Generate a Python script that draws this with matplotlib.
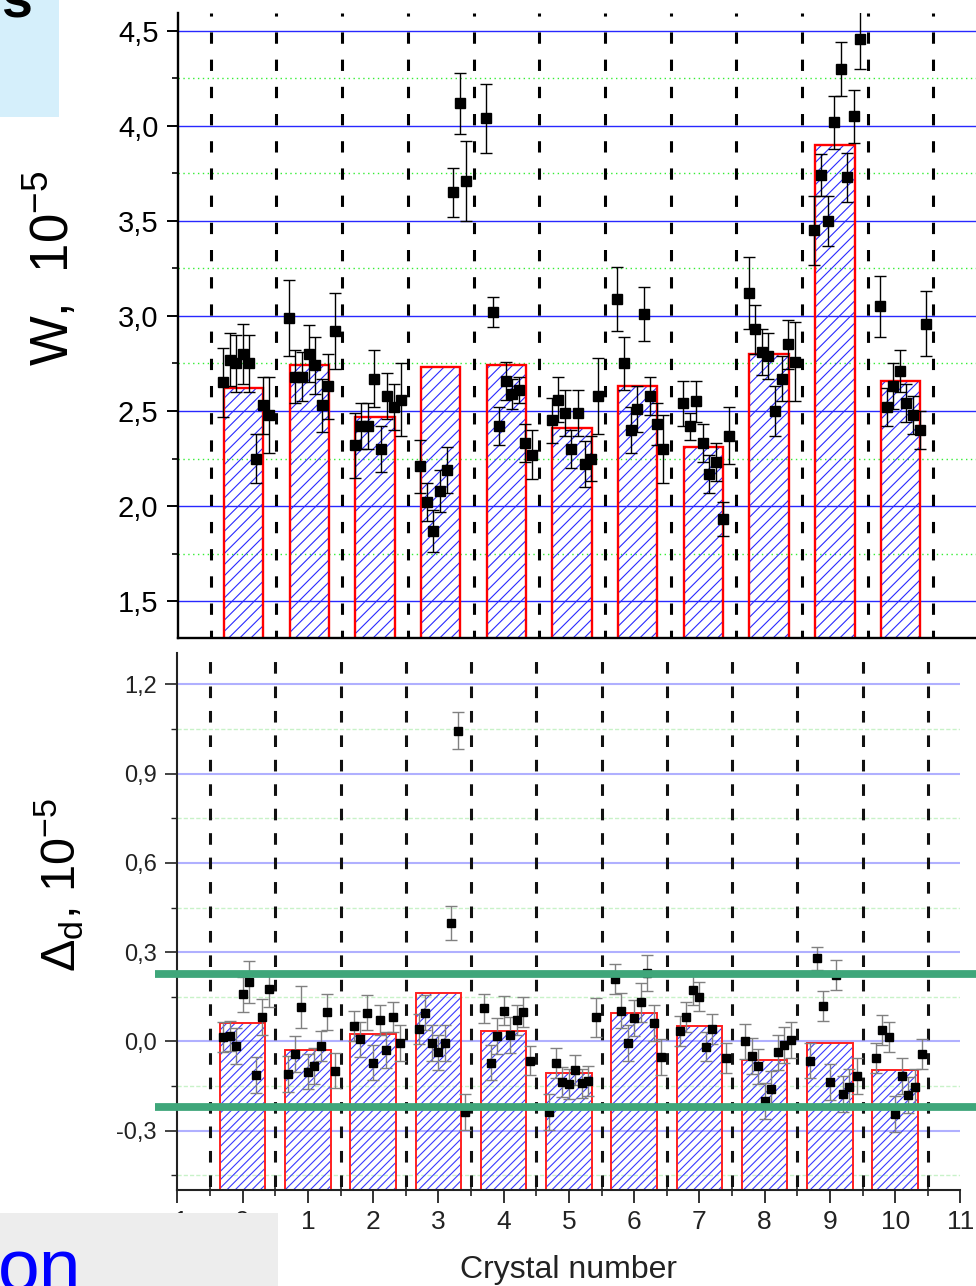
import numpy as np
import matplotlib
matplotlib.use('Agg')
import matplotlib.pyplot as plt
from matplotlib.patches import Rectangle
from matplotlib.lines import Line2D
from matplotlib.ticker import MultipleLocator, FuncFormatter
import matplotlib.transforms as mtransforms

nan = np.nan

# ---------------- data ----------------
crystals = np.arange(0, 11)

# upper panel: W, 1e-5
w_bars = [2.62, 2.74, 2.47, 2.73, 2.74, 2.41, 2.63, 2.31, 2.80, 3.90, 2.66]
w_offsets = [-0.31, -0.21, -0.11, -0.01, 0.09, 0.19, 0.29, 0.39]
w_points = [
    [2.65, 2.77, 2.75, 2.80, 2.75, 2.25, 2.53, 2.48],
    [2.99, 2.68, 2.68, 2.80, 2.74, 2.53, 2.63, 2.92],
    [2.32, 2.42, 2.42, 2.67, 2.30, 2.58, 2.52, 2.56],
    [2.21, 2.02, 1.87, 2.08, 2.19, 3.65, 4.12, 3.71],
    [4.04, 3.02, 2.42, 2.66, 2.59, 2.61, 2.33, 2.27],
    [2.45, 2.56, 2.49, 2.30, 2.49, 2.22, 2.25, 2.58],
    [3.09, 2.75, 2.40, 2.51, 3.01, 2.58, 2.43, 2.30],
    [2.54, 2.42, 2.55, 2.33, 2.17, 2.23, 1.93, 2.37],
    [3.12, 2.93, 2.81, 2.79, 2.50, 2.67, 2.85, 2.76],
    [3.45, 3.74, 3.50, 4.02, 4.30, 3.73, 4.05, 4.46],
    [3.05, 2.52, 2.63, 2.71, 2.54, 2.48, 2.40, 2.96],
]
w_err = [
    [0.18, 0.14, 0.15, 0.16, 0.15, 0.13, 0.15, 0.20],
    [0.20, 0.14, 0.13, 0.15, 0.15, 0.14, 0.17, 0.20],
    [0.17, 0.12, 0.12, 0.15, 0.12, 0.12, 0.12, 0.19],
    [0.14, 0.10, 0.11, 0.11, 0.12, 0.13, 0.16, 0.21],
    [0.18, 0.08, 0.10, 0.10, 0.08, 0.07, 0.10, 0.13],
    [0.12, 0.12, 0.12, 0.10, 0.12, 0.12, 0.12, 0.20],
    [0.17, 0.14, 0.12, 0.12, 0.14, 0.10, 0.11, 0.18],
    [0.12, 0.07, 0.11, 0.10, 0.10, 0.10, 0.09, 0.15],
    [0.19, 0.13, 0.12, 0.12, 0.13, 0.12, 0.13, 0.21],
    [0.18, 0.11, 0.13, 0.14, 0.14, 0.13, 0.14, 0.16],
    [0.16, 0.10, 0.12, 0.11, 0.10, 0.10, 0.10, 0.17],
]

# lower panel: Delta_d, 1e-5
d_bars = [0.061, -0.029, 0.024, 0.164, 0.036, -0.107, 0.097, 0.053, -0.062, -0.006, -0.096]
d_offsets = [-0.30, -0.20, -0.10, 0.00, 0.10, 0.20, 0.30, 0.41]
d_points = [
    [0.016, 0.018, -0.015, 0.158, 0.199, -0.113, 0.081, 0.175],
    [-0.109, -0.043, 0.115, -0.101, -0.082, -0.015, 0.100, -0.098],
    [0.052, 0.007, 0.097, -0.071, 0.072, -0.029, 0.083, -0.006],
    [0.041, 0.097, -0.006, -0.037, -0.004, 0.399, 1.044, -0.236],
    [0.111, -0.071, 0.018, 0.104, 0.022, 0.072, 0.098, -0.064],
    [-0.236, -0.073, -0.135, -0.143, -0.096, -0.141, -0.132, 0.081],
    [0.209, 0.104, -0.006, 0.080, 0.132, 0.229, 0.063, -0.051],
    [0.036, 0.083, 0.173, 0.151, -0.017, 0.041, nan, -0.056],
    [0.000, -0.048, -0.084, -0.200, -0.159, -0.037, -0.011, 0.006],
    [-0.064, 0.279, 0.119, -0.135, 0.223, -0.176, -0.152, -0.116],
    [-0.056, 0.039, 0.016, -0.244, -0.116, -0.180, -0.152, -0.042],
]
d_err = [
    [0.05, 0.05, 0.06, 0.06, 0.07, 0.06, 0.06, 0.06],
    [0.06, 0.06, 0.07, 0.06, 0.06, 0.05, 0.06, 0.06],
    [0.05, 0.06, 0.06, 0.06, 0.05, 0.06, 0.05, 0.06],
    [0.05, 0.06, 0.06, 0.06, 0.06, 0.057, 0.063, 0.06],
    [0.05, 0.06, 0.06, 0.05, 0.06, 0.05, 0.05, 0.05],
    [0.06, 0.05, 0.05, 0.05, 0.05, 0.05, 0.05, 0.065],
    [0.05, 0.06, 0.06, 0.06, 0.065, 0.06, 0.06, 0.06],
    [0.05, 0.05, 0.05, 0.05, 0.05, 0.05, 0.05, 0.05],
    [0.06, 0.06, 0.06, 0.06, 0.06, 0.06, 0.06, 0.06],
    [0.06, 0.04, 0.05, 0.06, 0.05, 0.06, 0.06, 0.06],
    [0.05, 0.05, 0.05, 0.06, 0.06, 0.06, 0.06, 0.05],
]
d_limits = [0.225, -0.22]   # green threshold lines

x_ticks = np.arange(-1, 12)

# ---------------- style ----------------
plt.rcParams['font.family'] = ['Liberation Sans', 'DejaVu Sans']
plt.rcParams['mathtext.fontset'] = 'custom'
plt.rcParams['mathtext.rm'] = 'Liberation Sans'
plt.rcParams['mathtext.it'] = 'Liberation Sans:italic'
plt.rcParams['hatch.linewidth'] = 0.8
plt.rcParams['hatch.color'] = 'blue'

W, H = 976, 1286
fig = plt.figure(figsize=(W / 100, H / 100), dpi=100)

def comma(v, p):
    if abs(v) < 1e-9:
        v = 0.0
    return f"{v:.1f}".replace('.', ',')

bounds = np.append(crystals - 0.5, crystals[-1] + 0.5)

# ---------------- upper panel ----------------
ax1 = fig.add_axes([177.85 / W, 1 - 637.7 / H, (W - 177.85) / W, (637.7 - 12.7) / H])
ax1.bar(crystals, w_bars, width=0.6, facecolor='none', edgecolor='#2a2aff',
        linewidth=0, hatch='///', zorder=1)
ax1.bar(crystals, w_bars, width=0.6, fill=False, edgecolor='red', linewidth=1.7, zorder=2)
ax1.vlines(bounds, 1, 0, transform=ax1.get_xaxis_transform(), colors='black',
           linewidth=2.2, linestyles=[(2.7, (3.7, 5.2))], zorder=3)
for c, vals, errs in zip(crystals, w_points, w_err):
    ax1.errorbar(c + np.array(w_offsets), vals, yerr=errs, fmt='s', ms=6.5,
                 mfc='black', mec='black', ecolor='black', elinewidth=1.0,
                 capsize=4, capthick=1.0, zorder=4)
ax1.set_xlim(-1, -1 + (W - 177.85) / 65.7)
ax1.set_ylim(1.307, 4.596)
for s in ['top', 'right']:
    ax1.spines[s].set_visible(False)
for s in ['left', 'bottom']:
    ax1.spines[s].set_linewidth(1.7)
ax1.yaxis.set_major_locator(MultipleLocator(0.5))
ax1.yaxis.set_minor_locator(MultipleLocator(0.25))
ax1.yaxis.set_major_formatter(FuncFormatter(comma))
ax1.tick_params(axis='y', which='major', direction='out', length=8, width=1.4,
                labelsize=21, pad=6)
ax1.tick_params(axis='y', which='minor', direction='out', length=4, width=1.2)
ax1.tick_params(axis='x', which='both', bottom=False, labelbottom=False)
ax1.set_axisbelow(True)
ax1.grid(axis='y', which='major', color='#2828ff', lw=1.0)
ax1.grid(axis='y', which='minor', color='#33ee33', lw=1.0, ls=(0, (1, 2.5)))

# ---------------- lower panel ----------------
D_BASE = -0.6
ax2 = fig.add_axes([177.4 / W, 1 - 1190.3 / H, (960.4 - 177.4) / W, (1190.3 - 653) / H])
d_heights = np.array(d_bars) - D_BASE
ax2.bar(crystals, d_heights, bottom=D_BASE, width=0.7, facecolor='none',
        edgecolor='#3a3aff', linewidth=0, hatch='////', zorder=1)
ax2.bar(crystals, d_heights, bottom=D_BASE, width=0.7, fill=False,
        edgecolor='#ff2020', linewidth=1.4, zorder=2)
ax2.vlines(bounds, 1, 0, transform=ax2.get_xaxis_transform(), colors='#111111',
           linewidth=2.2, linestyles=[(5.2, (3.8, 4.2))], zorder=3)
for c, vals, errs in zip(crystals, d_points, d_err):
    ax2.errorbar(c + np.array(d_offsets), vals, yerr=errs, fmt='s', ms=5.8,
                 mfc='black', mec='black', ecolor='#808080', elinewidth=1.0,
                 capsize=4, capthick=1.0, zorder=4)
ax2.set_xlim(-1, 11)
ax2.set_ylim(-0.5, 1.305)
for s in ['top', 'right']:
    ax2.spines[s].set_visible(False)
for s in ['left', 'bottom']:
    ax2.spines[s].set_linewidth(1.5)
    ax2.spines[s].set_color('#222222')
ax2.yaxis.set_major_locator(MultipleLocator(0.3))
ax2.yaxis.set_minor_locator(MultipleLocator(0.15))
ax2.yaxis.set_major_formatter(FuncFormatter(comma))
ax2.set_xticks(x_ticks)
ax2.set_xticklabels([str(t) for t in x_ticks])
ax2.xaxis.set_minor_locator(MultipleLocator(0.5))
ax2.tick_params(axis='y', which='major', direction='out', length=9, width=1.2,
                labelsize=17, pad=6, color='#222222', labelcolor='#222222')
ax2.tick_params(axis='y', which='minor', direction='out', length=4.5, width=1.0, color='#222222')
ax2.tick_params(axis='x', which='major', direction='out', length=9, width=1.3,
                labelsize=19, pad=5, color='#222222', labelcolor='#222222')
ax2.tick_params(axis='x', which='minor', direction='inout', length=8, width=1.2, color='#222222')
ax2.set_axisbelow(True)
ax2.grid(axis='y', which='major', color='#b0b0ff', lw=1.5)
ax2.grid(axis='y', which='minor', color='#c8f2c8', lw=1.0, ls=(0, (3, 1.5)))

# green threshold lines across the lower panel
blend = mtransforms.blended_transform_factory(fig.transFigure, ax2.transData)
for lv in d_limits:
    ax2.add_line(Line2D([155 / W, 1.0], [lv, lv], transform=blend, color='#3fa67a',
                        linewidth=5.6, solid_capstyle='butt', clip_on=False, zorder=6))

# ---------------- labels ----------------
fig.text(52 / W, 1 - 268 / H, r'W,  10$^{\mathregular{-5}}$', rotation=90,
         fontsize=38, ha='center', va='center')
fig.text(60 / W, 1 - 885 / H, r'Δ$_{\mathregular{d}}$, 10$^{\mathregular{-5}}$', rotation=90,
         fontsize=35, ha='center', va='center')
fig.text(568 / W, 1 - 1270 / H, 'Crystal number', fontsize=23, ha='center',
         va='center', color='#222222')

# ---------------- slide overlays ----------------
fig.add_artist(Rectangle((0, 1 - 117 / H), 59 / W, 117 / H, transform=fig.transFigure,
                         facecolor='#d5effb', edgecolor='none', zorder=8))
fig.text(1 / W, 1 - 17 / H, 's', fontsize=40, fontweight='bold', ha='left',
         va='baseline', color='black', zorder=9)
fig.add_artist(Rectangle((0, 0), 278 / W, (H - 1213) / H, transform=fig.transFigure,
                         facecolor='#ededed', edgecolor='none', zorder=8))
fig.text(-2 / W, 1 - 1292 / H, 'on', fontsize=54, ha='left', va='baseline',
         color='#0000ff', zorder=9)

fig.savefig('out.png', dpi=100)
